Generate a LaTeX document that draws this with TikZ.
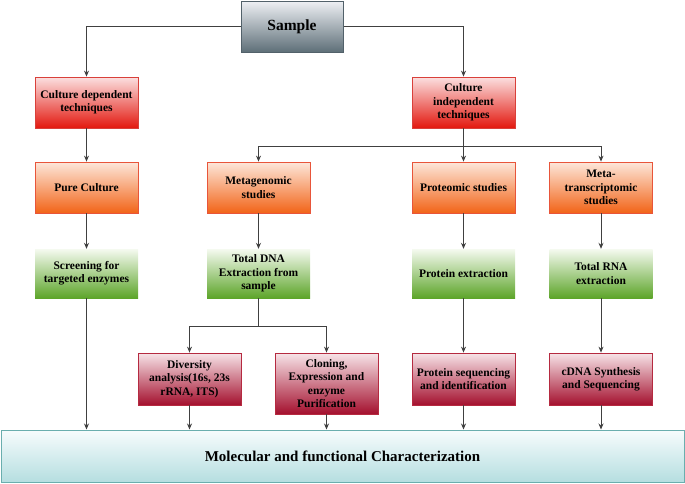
\documentclass[tikz,border=0pt]{standalone}
\usepackage{fontspec}
\setmainfont{Liberation Serif}
\usetikzlibrary{arrows.meta}
\definecolor{smtop}{HTML}{EEF0F4}\definecolor{smbot}{HTML}{5E6F78}\definecolor{smbd}{HTML}{52616A}
\definecolor{rdtop}{HTML}{FBE0E0}\definecolor{rdbot}{HTML}{E3180F}\definecolor{rdbd}{HTML}{D9403A}
\definecolor{ortop}{HTML}{FDE7DA}\definecolor{orbot}{HTML}{F26418}\definecolor{orbd}{HTML}{E8553A}
\definecolor{grtop}{HTML}{F5FAF0}\definecolor{grbot}{HTML}{5DA52A}
\definecolor{crtop}{HTML}{F7E4E8}\definecolor{crbot}{HTML}{A4102E}\definecolor{crbd}{HTML}{B52A40}
\definecolor{chtop}{HTML}{F7FCFD}\definecolor{chbot}{HTML}{B5DEE0}\definecolor{chbd}{HTML}{6AAEAE}
\definecolor{ln}{HTML}{404040}
\tikzset{
  box/.style={rectangle, minimum width=103pt, minimum height=51pt, align=center, inner sep=1pt,
    font=\fontsize{11.5}{13.3}\selectfont\bfseries, text=black},
  smbox/.style={box, draw=smbd, line width=1pt, top color=smtop, bottom color=smbot, minimum width=102pt,
    font=\fontsize{15.5}{17}\selectfont\bfseries},
  rdbox/.style={box, draw=rdbd, line width=0.8pt, top color=rdtop, bottom color=rdbot},
  orbox/.style={box, draw=orbd, line width=0.8pt, top color=ortop, bottom color=orbot},
  grbox/.style={box, draw=none, top color=grtop, bottom color=grbot, minimum height=49pt},
  crbox/.style={box, draw=crbd, line width=0.8pt, top color=crtop, bottom color=crbot, minimum height=52pt},
  chbox/.style={rectangle, draw=chbd, line width=1pt, top color=chtop, bottom color=chbot,
    minimum width=683pt, minimum height=52pt, font=\fontsize{15}{17}\selectfont\bfseries},
  conn/.style={draw=ln, line width=0.8pt},
  arr/.style={conn, -{Stealth[length=6pt,width=5pt]}},
}
\begin{document}
\begin{tikzpicture}[x=1pt,y=-1pt]
\useasboundingbox (0,0) rectangle (685,483);
\node[smbox] (sample) at (292,26.5) {Sample};
\node[rdbox] (cdep) at (86.5,102.5) {Culture dependent\\techniques};
\node[rdbox] (cind) at (463.5,102.5) {Culture\\independent\\techniques};
\node[orbox] (pure) at (86.5,187.5) {Pure Culture};
\node[orbox] (meta) at (258.5,187.5) {Metagenomic\\studies};
\node[orbox] (prot) at (463.5,187.5) {Proteomic studies};
\node[orbox] (metat) at (601,187.5) {Meta-\\transcriptomic\\studies};
\node[grbox] (screen) at (86.5,273.5) {Screening for\\targeted enzymes};
\node[grbox] (dna) at (258.5,273.5) {Total DNA\\Extraction from\\sample};
\node[grbox] (protx) at (463.5,273.5) {Protein extraction};
\node[grbox] (rna) at (601,273.5) {Total RNA\\extraction};
\node[crbox] (div) at (189.5,379) {Diversity\\analysis(16s, 23s\\rRNA, ITS)};
\node[crbox, minimum height=61pt] (clon) at (326.5,383.5) {Cloning,\\Expression and\\enzyme\\Purification};
\node[crbox] (pseq) at (463.5,379) {Protein sequencing\\and identification};
\node[crbox] (cdna) at (601,379) {cDNA Synthesis\\and Sequencing};
\node[chbox] (char) at (342.5,456) {Molecular and functional Characterization};
\coordinate (j1) at (463.5,146);
\coordinate (j2) at (258.5,326);
% top level
\draw[arr] (sample.west) -| (cdep.north);
\draw[arr] (sample.east) -| (cind.north);
% left column
\draw[arr] (cdep) -- (pure);
\draw[arr] (pure) -- (screen);
\draw[arr] (screen.south) -- (screen.south |- char.north);
% culture independent branch
\draw[arr] (cind.south) -- (prot.north);
\draw[arr] (j1) -| (meta.north);
\draw[arr] (j1) -| (metat.north);
% metagenomic
\draw[arr] (meta) -- (dna);
\draw[conn] (dna.south) -- (j2);
\draw[arr] (j2) -| (div.north);
\draw[arr] (j2) -| (clon.north);
\draw[arr] (div.south) -- (div.south |- char.north);
\draw[arr] (clon.south) -- (clon.south |- char.north);
% proteomic
\draw[arr] (prot) -- (protx);
\draw[arr] (protx) -- (pseq);
\draw[arr] (pseq.south) -- (pseq.south |- char.north);
% metatranscriptomic
\draw[arr] (metat) -- (rna);
\draw[arr] (rna) -- (cdna);
\draw[arr] (cdna.south) -- (cdna.south |- char.north);
\end{tikzpicture}
\end{document}
